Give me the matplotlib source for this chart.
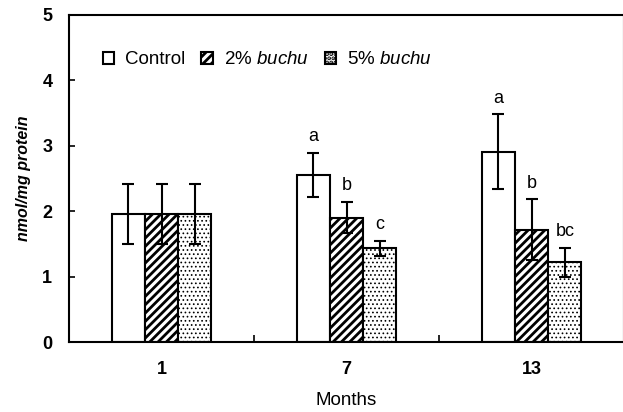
import matplotlib
matplotlib.use("Agg")
import matplotlib.pyplot as plt
import numpy as np

plt.rcParams['font.family'] = ['Liberation Sans', 'DejaVu Sans']
plt.rcParams['mathtext.fontset'] = 'custom'
plt.rcParams['mathtext.rm'] = 'Liberation Sans'
plt.rcParams['mathtext.it'] = 'Liberation Sans:italic'
plt.rcParams['hatch.linewidth'] = 2.0

months = ["1", "7", "13"]
series_names = ["Control", r"2% $\mathit{buchu}$", r"5% $\mathit{buchu}$"]
control = [1.96, 2.55, 2.91]
buchu2 = [1.96, 1.90, 1.72]
buchu5 = [1.96, 1.43, 1.22]
err_control = [0.46, 0.34, 0.57]
err_buchu2 = [0.46, 0.24, 0.46]
err_buchu5 = [0.46, 0.11, 0.22]
letters_control = ["", "a", "a"]
letters_buchu2 = ["", "b", "b"]
letters_buchu5 = ["", "c", "bc"]

fig = plt.figure(figsize=(6.23, 4.12), dpi=100)
ax = fig.add_axes([0.1108, 0.1699, 0.8908, 0.7937])

x = np.arange(len(months))
w = 0.18
hatches = ["", "////", "...."]
hatch_lw = [2.0, 2.0, 0.7]
vals = [control, buchu2, buchu5]
errs = [err_control, err_buchu2, err_buchu5]
lets = [letters_control, letters_buchu2, letters_buchu5]
for i in range(3):
    pos = x + (i - 1) * w
    with plt.rc_context({'hatch.linewidth': hatch_lw[i]}):
        bars = ax.bar(pos, vals[i], width=w, color="white", edgecolor="black",
                      linewidth=1.5, hatch=hatches[i], label=series_names[i], zorder=2)
        for b in bars:
            if hasattr(b, "set_hatch_linewidth"):
                b.set_hatch_linewidth(hatch_lw[i])
    ax.errorbar(pos, vals[i], yerr=errs[i], fmt="none", ecolor="black",
                elinewidth=1.5, capsize=4, capthick=1.5, zorder=3)
    for p, v, e, t in zip(pos, vals[i], errs[i], lets[i]):
        if t:
            ax.text(p, v + e + 0.12, t, ha="center", va="bottom", fontsize=13)

ax.set_xlim(-0.5, 2.5)
ax.set_ylim(0, 5)
ax.set_yticks([0, 1, 2, 3, 4, 5])
ax.set_xticks(x)
ax.set_xticklabels(months)
ax.set_xticks([0.5, 1.5], minor=True)
ax.tick_params(axis="x", which="major", length=0, pad=14, labelsize=13)
ax.tick_params(axis="x", which="minor", direction="in", length=5, width=1.2)
ax.tick_params(axis="y", direction="in", length=4, width=1.2, pad=12, labelsize=13)
for lab in ax.get_yticklabels() + ax.get_xticklabels():
    lab.set_fontweight("bold")
for s in ax.spines.values():
    s.set_linewidth(1.5)

ax.set_xlabel("Months", fontsize=13.5, labelpad=10)
ax.set_ylabel("nmol/mg protein", fontsize=11.5, fontweight="bold", style="italic", labelpad=8)

leg = ax.legend(loc="upper left", bbox_to_anchor=(0.047, 0.912), ncol=3, frameon=False,
                handlelength=0.6, handleheight=0.6, handletextpad=0.6, columnspacing=0.85,
                fontsize=13.5, borderaxespad=0)

fig.savefig("out.png", dpi=100)
